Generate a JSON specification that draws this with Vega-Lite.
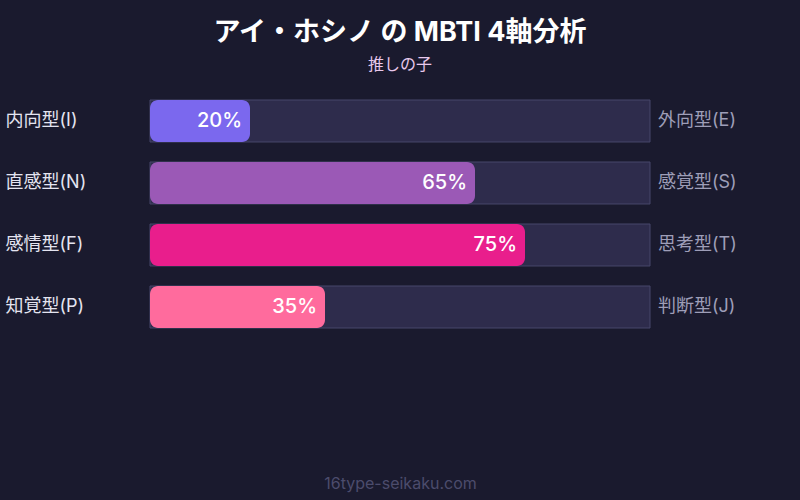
{
  "$schema": "https://vega.github.io/schema/vega-lite/v6.json",
  "autosize": "none",
  "width": 500,
  "height": 228,
  "padding": {"left": 150, "right": 150, "top": 100, "bottom": 172},
  "background": "#1a1a2e",
  "title": {
    "text": "アイ・ホシノ の MBTI 4軸分析",
    "subtitle": "推しの子",
    "anchor": "middle",
    "font": "Inter, Noto Sans CJK JP",
    "fontSize": 27,
    "fontWeight": "bold",
    "color": "#ffffff",
    "subtitleFont": "Inter, Noto Sans CJK JP",
    "subtitleFontSize": 16,
    "subtitleColor": "#e8c8ec",
    "subtitlePadding": 10,
    "offset": 26
  },
  "data": {
    "values": [
      {"left": "内向型(I)", "right": "外向型(E)", "pct": 20, "color": "#7b68ee"},
      {"left": "直感型(N)", "right": "感覚型(S)", "pct": 65, "color": "#9b59b6"},
      {"left": "感情型(F)", "right": "思考型(T)", "pct": 75, "color": "#e91e8c"},
      {"left": "知覚型(P)", "right": "判断型(J)", "pct": 35, "color": "#ff6b9d"}
    ]
  },
  "transform": [{"calculate": "datum.pct + '%'", "as": "label"}],
  "encoding": {
    "y": {
      "field": "left",
      "type": "nominal",
      "sort": null,
      "scale": {"paddingInner": 0.3226, "paddingOuter": 0},
      "axis": {
        "title": null,
        "domain": false,
        "ticks": false,
        "labelAlign": "left",
        "labelPadding": 145,
        "labelFont": "Inter, Noto Sans CJK JP",
        "labelFontSize": 18,
        "labelColor": "#e4e4f0"
      }
    }
  },
  "layer": [
    {
      "mark": {"type": "bar", "color": "#2e2c4c", "stroke": "#46466a", "strokeWidth": 1},
      "encoding": {
        "x": {
          "datum": 100,
          "type": "quantitative",
          "scale": {"domain": [0, 100]},
          "axis": {
            "title": "16type-seikaku.com",
            "titleFont": "Inter",
            "titleFontSize": 16,
            "titleFontWeight": "normal",
            "titleColor": "#4c4c6c",
            "titlePadding": 147,
            "domain": false,
            "ticks": false,
            "labels": false,
            "grid": false
          }
        }
      }
    },
    {
      "mark": {"type": "bar", "cornerRadius": 8},
      "encoding": {
        "x": {"field": "pct", "type": "quantitative"},
        "color": {"field": "color", "type": "nominal", "scale": null}
      }
    },
    {
      "mark": {
        "type": "text",
        "align": "right",
        "dx": -8,
        "font": "Inter",
        "fontSize": 20,
        "fontWeight": 500,
        "color": "#ffffff"
      },
      "encoding": {
        "x": {"field": "pct", "type": "quantitative"},
        "text": {"field": "label", "type": "nominal"}
      }
    },
    {
      "mark": {
        "type": "text",
        "align": "left",
        "dx": 8,
        "font": "Inter, Noto Sans CJK JP",
        "fontSize": 18,
        "color": "#9e9eb8"
      },
      "encoding": {
        "x": {"datum": 100, "type": "quantitative"},
        "text": {"field": "right", "type": "nominal"}
      }
    }
  ],
  "config": {
    "view": {"stroke": null}
  }
}
